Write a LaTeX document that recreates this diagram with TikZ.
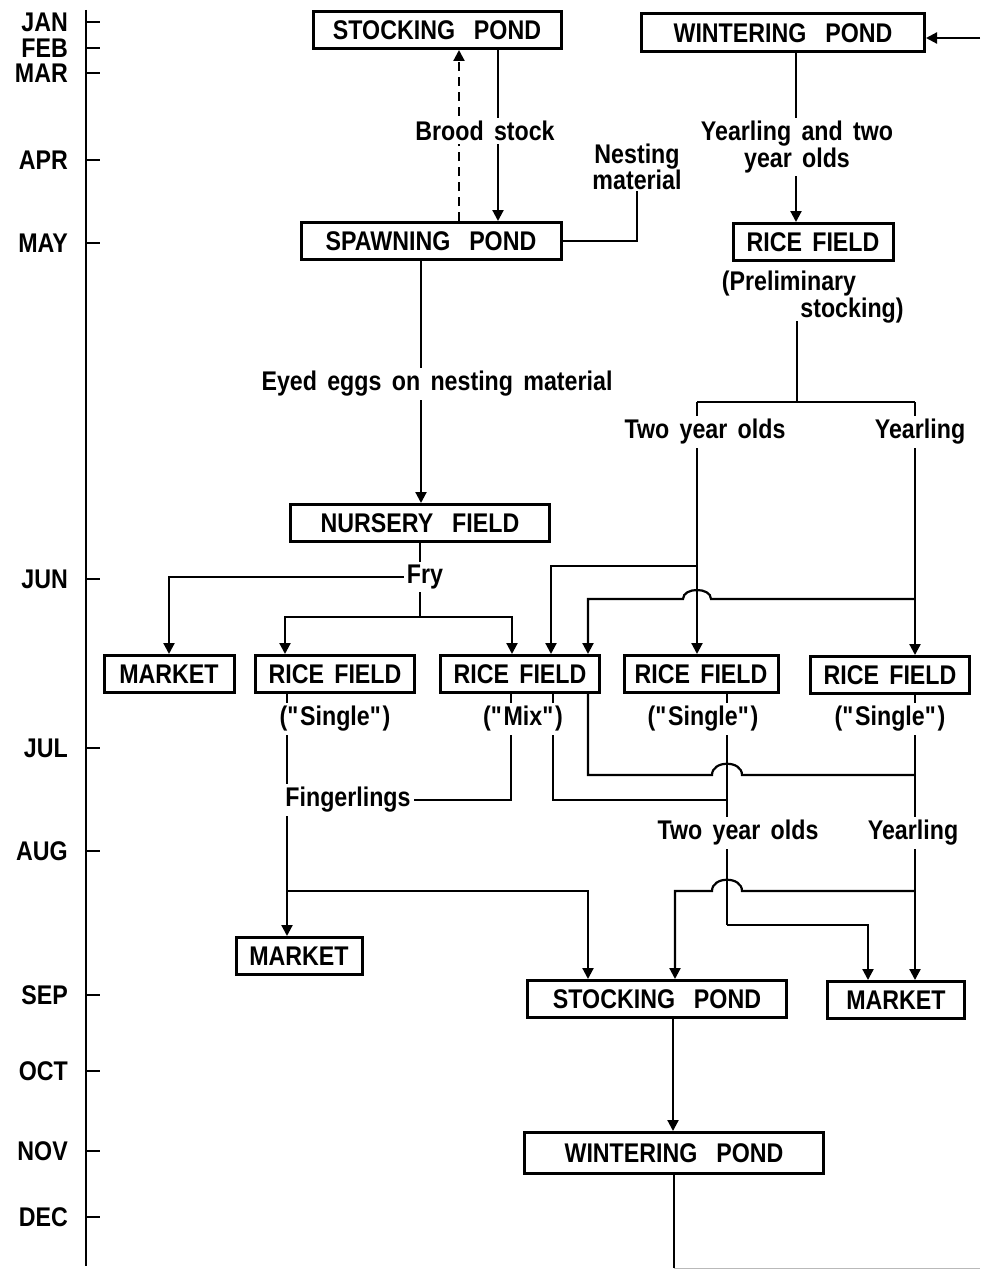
\documentclass[tikz,border=0pt]{standalone}
\usepackage{fontspec}
\setmainfont{Liberation Sans}[FakeStretch=0.86,WordSpace=1.6]
\usetikzlibrary{arrows.meta}
\pgfdeclarelayer{bg}
\pgfsetlayers{bg,main}
\begin{document}
\begin{tikzpicture}[x=1pt,y=-1pt,
  every node/.style={font=\bfseries\fontsize{27}{28}\selectfont},
  box/.style={draw,line width=3pt,inner sep=0pt,minimum height=37pt},
  lbl/.style={fill=white,inner sep=3pt,align=center},
  ln/.style={line width=2.2pt},
  arr/.style={line width=2.2pt,-{Triangle[width=11pt,length=11pt]}},
  mon/.style={anchor=east,inner sep=0pt},
  axis/.style={line width=2.5pt}]
\useasboundingbox (0,0) rectangle (980,1271);

% time axis
\coordinate (axtop) at (86,10);
\coordinate (axbot) at (86,1266);
\draw[axis] (axtop) -- (axbot);
\foreach \y/\m in {22/JAN,48/FEB,73/MAR,160/APR,243/MAY,579/JUN,748/JUL,851/AUG,995/SEP,1071/OCT,1151/NOV,1217/DEC}{
  \coordinate (t\m) at (86,\y);
  \draw[axis] (t\m) -- ++(14,0);
  \node[mon] (m\m) at (68,\y) {\m};
}

% boxes
\node[box,minimum width=248pt] (sp1) at (437,30) {STOCKING\hspace{.7em}POND};
\node[box,minimum width=283pt,minimum height=38pt] (wp1) at (783,33) {WINTERING\hspace{.7em}POND};
\node[box,minimum width=260pt] (spawn) at (431,241) {SPAWNING\hspace{.7em}POND};
\node[box,minimum width=160pt] (rf0) at (813,242) {RICE FIELD};
\node[box,minimum width=259pt] (nurs) at (420,523) {NURSERY\hspace{.7em}FIELD};
\node[box,minimum width=130pt] (mk1) at (169,674) {MARKET};
\node[box,minimum width=159pt] (rf1) at (335,674) {RICE FIELD};
\node[box,minimum width=159pt] (rf2) at (520,674) {RICE FIELD};
\node[box,minimum width=154pt] (rf3) at (701,674) {RICE FIELD};
\node[box,minimum width=159pt] (rf4) at (890,675) {RICE FIELD};
\node[box,minimum width=126pt] (mk2) at (299,956) {MARKET};
\node[box,minimum width=259pt] (sp2) at (657,999) {STOCKING\hspace{.7em}POND};
\node[box,minimum width=137pt] (mk3) at (896,1000) {MARKET};
\node[box,minimum width=299pt,minimum height=41pt] (wp2) at (674,1153) {WINTERING\hspace{.7em}POND};

% labels
\node[lbl] (brood) at (485,131) {Brood stock};
\node[align=center,inner sep=1pt,font=\bfseries\fontsize{27}{23}\selectfont] (nest) at (637,167) {Nesting\\material};
\node[lbl,font=\bfseries\fontsize{27}{27}\selectfont] (yt) at (797,147) {Yearling and two\\year olds};
\node (pre1) at (789,284) {(Preliminary};
\node (pre2) at (852,311) {stocking)};
\node[lbl] (two1) at (705,432) {Two year olds};
\node[lbl] (yr1) at (920,432) {Yearling};
\node[lbl] (eyed) at (437,384) {Eyed eggs on nesting material};
\node[lbl] (fry) at (425,577) {Fry};
\node[lbl] (s1) at (335,719) {(\textquotedbl Single\textquotedbl)};
\node[lbl] (mix) at (523,719) {(\textquotedbl Mix\textquotedbl)};
\node[lbl] (s3) at (703,719) {(\textquotedbl Single\textquotedbl)};
\node[lbl] (s4) at (890,719) {(\textquotedbl Single\textquotedbl)};
\node[lbl] (fing) at (348,800) {Fingerlings};
\node[lbl] (two2) at (738,833) {Two year olds};
\node[lbl] (yr2) at (913,833) {Yearling};

% junction coordinates
\coordinate (loopR) at (980,38);
\coordinate (pstem) at (797,321);
\coordinate (split) at (797,402);
\coordinate (splitL) at (697,402);
\coordinate (splitR) at (915,402);
\coordinate (j566) at (697,566);
\coordinate (j599) at (915,599);
\coordinate (fryj) at (420,617);
\coordinate (j890) at (287,891);
\coordinate (bumpA) at (727,775);
\coordinate (j775) at (915,775);
\coordinate (j800) at (727,800);
\coordinate (j925) at (727,925);
\coordinate (j892) at (915,891);
\coordinate (loopB) at (674,1268);
\coordinate (loopBR) at (980,1268);

\begin{pgfonlayer}{bg}
% brood stock
\draw[arr,dash pattern=on 9pt off 6pt] ([xshift=28pt]spawn.north) -- ([xshift=22pt]sp1.south);
\draw[arr] ([xshift=61pt]sp1.south) -- ([xshift=67pt]spawn.north);
% nesting material
\draw[ln] (nest.south) |- (spawn.east);
% eyed eggs
\draw[arr] ([xshift=-10pt]spawn.south) -- ([xshift=1pt]nurs.north);
% wintering to rice field
\draw[arr] ([xshift=13pt]wp1.south) -- ([xshift=-17pt]rf0.north);
\draw[arr] (loopR) -- (wp1.east |- loopR);
% preliminary stocking split
\draw[ln] (pstem) -- (split);
\draw[ln] (splitL) -- (splitR);
\draw[arr] (splitL) -- (rf3.north -| splitL);
\draw[arr] (splitR) -- (rf4.north -| splitR);
\draw[arr] (j566) -| ([xshift=31pt]rf2.north);
\draw[arr] (j599) -- ([xshift=14pt]j599 -| splitL) .. controls +(0,-12) and +(0,-12) .. ([xshift=-14pt]j599 -| splitL) -| ([xshift=68pt]rf2.north);
% nursery / fry
\draw[ln] (nurs.south) -- (fryj);
\draw[arr] (fry.west) -| (mk1.north);
\draw[arr] (fryj) -| ([xshift=-50pt]rf1.north);
\draw[arr] (fryj) -| ([xshift=-8pt]rf2.north);
% fingerlings
\draw[arr] ([xshift=-48pt]rf1.south) -- ([xshift=-12pt]mk2.north);
\draw[ln] (fing.east) -| ([xshift=-9pt]rf2.south);
\draw[arr] (j890) -| ([xshift=-69pt]sp2.north);
% mix outputs
\draw[ln] ([xshift=68pt]rf2.south) |- ([xshift=-15pt]bumpA) .. controls +(0,-15) and +(0,-15) .. ([xshift=15pt]bumpA) -- (j775);
\draw[ln] ([xshift=33pt]rf2.south) |- (j800);
% two year olds / yearlings at harvest
\draw[ln] ([xshift=26pt]rf3.south) -- (j925);
\draw[arr] (j925) -| ([xshift=-28pt]mk3.north);
\draw[arr] ([xshift=25pt]rf4.south) -- ([xshift=19pt]mk3.north);
\draw[arr] (j892) -- ([xshift=15pt]j892 -| j925) .. controls +(0,-15) and +(0,-15) .. ([xshift=-15pt]j892 -| j925) -| ([xshift=18pt]sp2.north);
% stocking to wintering
\draw[arr] ([xshift=16pt]sp2.south) -- ([xshift=-1pt]wp2.north);
\draw[ln] (wp2.south) -- (loopB);
\draw[gray!55,line width=1pt] (loopB) -- (loopBR);
\end{pgfonlayer}
\end{tikzpicture}
\end{document}
